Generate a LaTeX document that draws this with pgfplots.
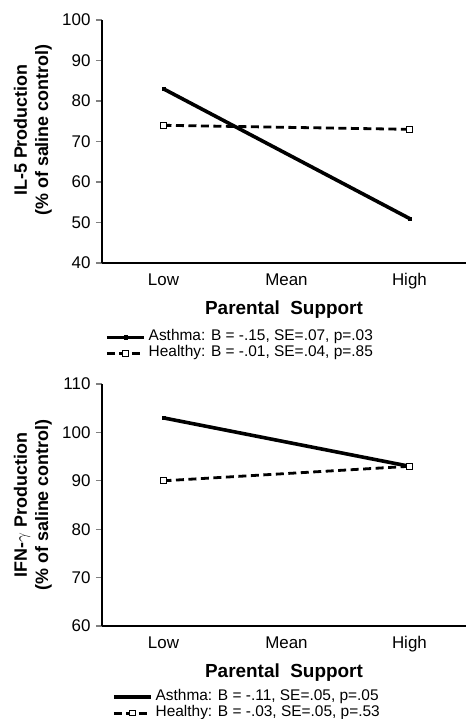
\documentclass[border=0pt]{standalone}
\usepackage{pgfplots}
\pgfplotsset{compat=1.18}
\usepackage{fontspec}
\setmainfont{Liberation Sans}
\pgfplotsset{
  myaxis/.style={
    scale only axis, width=364bp,
    xmin=-0.5, xmax=2.46,
    axis x line=bottom, axis y line=left,
    axis line style={-, line width=1.2bp},
    xtick={0,1,2}, xticklabels={Low,Mean,High},
    xtick style={draw=none},
    ytick style={line width=1.2bp},
    major tick length=6bp, tick align=outside,
    ticklabel style={font=\fontsize{17}{19}\selectfont},
    xticklabel style={yshift=-1bp},
    yticklabel style={xshift=-2bp},
    /pgf/number format/assume math mode=true,
    xlabel={Parental\ \ Support},
    xlabel style={font=\bfseries\fontsize{19}{23}\selectfont, at={(axis description cs:0.5,-0.193)}, anchor=center},
    ylabel style={font=\bfseries\fontsize{18}{21.5}\selectfont, align=center, rotate=0, anchor=center},
    legend cell align=left,
    legend style={draw=none, fill=none, inner sep=0pt, row sep=-1bp, font=\fontsize{15.5}{18}\selectfont,
      nodes={inner ysep=1.5bp, inner xsep=3bp, text height=10.5bp, text depth=3.5bp}},
    legend image code/.code={\draw[mark repeat=2,mark phase=2] plot coordinates {(0bp,0bp) (18.5bp,0bp) (37bp,0bp)};},
    clip=false,
  },
  asthma/.style={black, line width=3.6bp, mark=square*, mark size=1.6bp, mark options={solid, line width=0.6bp}},
  healthy/.style={black, line width=2.8bp, dash pattern=on 8bp off 4.5bp, mark=square*, mark size=2.8bp, mark options={solid, fill=white, line width=1bp}},
}
\begin{document}
\begin{tikzpicture}
\useasboundingbox (0,0) rectangle (466bp,719bp);
\begin{axis}[myaxis, at={(102bp,456bp)}, anchor=south west, height=243bp,
  ymin=40, ymax=100, ytick={40,50,60,70,80,90,100},
  ylabel={IL-5 Production\\(\% of saline control)},
  every axis y label/.append style={at={(axis description cs:-0.19,0.547)}},
  legend style={at={(axis description cs:0.008,-0.27)}, anchor=north west}]
\addplot[asthma] coordinates {(0,83) (2,51)};
\addlegendentry{Asthma: B = -.15, SE=.07, p=.03}
\addplot[healthy] coordinates {(0,74) (2,73)};
\addlegendentry{Healthy: B = -.01, SE=.04, p=.85}
\end{axis}
\begin{axis}[myaxis, at={(102bp,93bp)}, anchor=south west, height=242bp,
  ymin=60, ymax=110, ytick={60,70,80,90,100,110},
  ylabel={IFN-$\gamma$ Production\\(\% of saline control)},
  every axis y label/.append style={at={(axis description cs:-0.19,0.5)}},
  legend style={at={(axis description cs:0.027,-0.258)}, anchor=north west}]
\addplot[asthma] coordinates {(0,103) (2,93)};
\addlegendentry{Asthma: B = -.11, SE=.05, p=.05}
\addplot[healthy] coordinates {(0,90) (2,93)};
\addlegendentry{Healthy: B = -.03, SE=.05, p=.53}
\end{axis}
\end{tikzpicture}
\end{document}
